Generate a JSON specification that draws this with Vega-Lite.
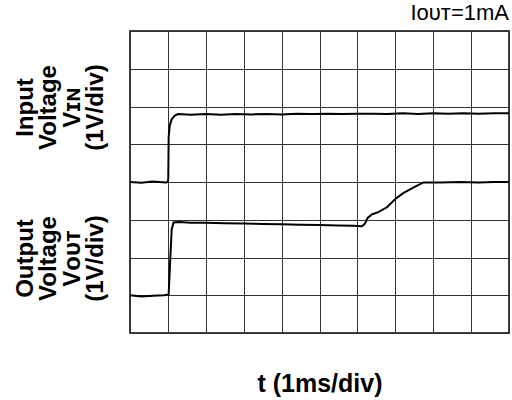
{
  "$schema": "https://vega.github.io/schema/vega-lite/v6.json",
  "width": 379,
  "height": 302,
  "autosize": "none",
  "padding": {"left": 130, "top": 31, "right": 3, "bottom": 67},
  "background": "white",
  "config": {
    "view": {"stroke": "black", "strokeWidth": 1.5},
    "font": "Liberation Sans"
  },
  "title": {
    "text": "Iᴏᴜᴛ=1mA",
    "anchor": "end",
    "frame": "group",
    "fontSize": 22,
    "fontWeight": "normal",
    "color": "black",
    "offset": 6
  },
  "data": {
    "values": [
      {"series": "Input", "t": 0, "v": 4.0},
      {"series": "Input", "t": 0.3, "v": 3.98},
      {"series": "Input", "t": 0.6, "v": 4.01},
      {"series": "Input", "t": 0.95, "v": 3.99},
      {"series": "Input", "t": 1.0, "v": 4.0},
      {"series": "Input", "t": 1.01, "v": 4.1},
      {"series": "Input", "t": 1.02, "v": 5.2},
      {"series": "Input", "t": 1.05, "v": 5.5},
      {"series": "Input", "t": 1.1, "v": 5.66},
      {"series": "Input", "t": 1.18, "v": 5.76},
      {"series": "Input", "t": 1.27, "v": 5.8},
      {"series": "Input", "t": 1.6, "v": 5.78},
      {"series": "Input", "t": 2.0, "v": 5.8},
      {"series": "Input", "t": 2.4, "v": 5.78},
      {"series": "Input", "t": 2.8, "v": 5.8},
      {"series": "Input", "t": 3.2, "v": 5.79},
      {"series": "Input", "t": 3.6, "v": 5.8},
      {"series": "Input", "t": 4.0, "v": 5.79},
      {"series": "Input", "t": 4.4, "v": 5.81},
      {"series": "Input", "t": 4.8, "v": 5.8},
      {"series": "Input", "t": 5.2, "v": 5.81},
      {"series": "Input", "t": 5.6, "v": 5.8},
      {"series": "Input", "t": 6.0, "v": 5.81},
      {"series": "Input", "t": 6.4, "v": 5.81},
      {"series": "Input", "t": 6.8, "v": 5.8},
      {"series": "Input", "t": 7.2, "v": 5.82},
      {"series": "Input", "t": 7.6, "v": 5.8},
      {"series": "Input", "t": 8.0, "v": 5.82},
      {"series": "Input", "t": 8.4, "v": 5.81},
      {"series": "Input", "t": 8.8, "v": 5.82},
      {"series": "Input", "t": 9.2, "v": 5.81},
      {"series": "Input", "t": 9.6, "v": 5.82},
      {"series": "Input", "t": 10.0, "v": 5.82},
      {"series": "Output", "t": 0, "v": 1.0},
      {"series": "Output", "t": 0.3, "v": 0.97},
      {"series": "Output", "t": 0.6, "v": 0.99},
      {"series": "Output", "t": 0.9, "v": 1.0},
      {"series": "Output", "t": 1.02, "v": 1.02},
      {"series": "Output", "t": 1.06, "v": 1.9},
      {"series": "Output", "t": 1.1, "v": 2.75},
      {"series": "Output", "t": 1.15, "v": 2.93},
      {"series": "Output", "t": 1.3, "v": 2.94},
      {"series": "Output", "t": 1.6, "v": 2.92},
      {"series": "Output", "t": 2.0, "v": 2.92},
      {"series": "Output", "t": 2.5, "v": 2.91},
      {"series": "Output", "t": 3.0, "v": 2.9},
      {"series": "Output", "t": 3.5, "v": 2.89},
      {"series": "Output", "t": 4.0, "v": 2.88},
      {"series": "Output", "t": 4.5, "v": 2.87},
      {"series": "Output", "t": 5.0, "v": 2.86},
      {"series": "Output", "t": 5.5, "v": 2.85},
      {"series": "Output", "t": 5.9, "v": 2.84},
      {"series": "Output", "t": 6.12, "v": 2.83},
      {"series": "Output", "t": 6.2, "v": 2.9},
      {"series": "Output", "t": 6.27, "v": 3.05},
      {"series": "Output", "t": 6.38, "v": 3.14},
      {"series": "Output", "t": 6.55, "v": 3.2},
      {"series": "Output", "t": 6.78, "v": 3.33},
      {"series": "Output", "t": 7.0, "v": 3.55},
      {"series": "Output", "t": 7.2, "v": 3.7},
      {"series": "Output", "t": 7.4, "v": 3.81},
      {"series": "Output", "t": 7.6, "v": 3.92},
      {"series": "Output", "t": 7.75, "v": 3.99},
      {"series": "Output", "t": 8.2, "v": 3.99},
      {"series": "Output", "t": 8.7, "v": 4.0},
      {"series": "Output", "t": 9.2, "v": 3.99},
      {"series": "Output", "t": 9.6, "v": 4.0},
      {"series": "Output", "t": 10.0, "v": 4.0}
    ]
  },
  "encoding": {
    "x": {
      "field": "t", "type": "quantitative",
      "scale": {"domain": [0, 10], "nice": false, "zero": false},
      "axis": {
        "values": [0, 1, 2, 3, 4, 5, 6, 7, 8, 9, 10],
        "grid": true, "gridColor": "#333", "gridOpacity": 1, "gridWidth": 1,
        "labels": false, "ticks": false, "domain": false,
        "title": "t (1ms/div)",
        "titleFontSize": 25, "titleFontWeight": "bold", "titleColor": "black",
        "titlePadding": 38
      }
    }
  },
  "layer": [
    {
      "transform": [{"filter": "datum.series == 'Input'"}],
      "mark": {"type": "line", "color": "black", "strokeWidth": 2, "clip": true},
      "encoding": {
        "y": {
          "field": "v", "type": "quantitative",
          "scale": {"domain": [0, 8], "nice": false, "zero": false},
          "axis": {
            "values": [0, 1, 2, 3, 4, 5, 6, 7, 8],
            "grid": true, "gridColor": "#333", "gridOpacity": 1, "gridWidth": 1,
            "labels": false, "ticks": false, "domain": false,
            "title": ["Input", "Voltage", "Vɪɴ", "(1V/div)"],
            "titleFontSize": 24, "titleFontWeight": "bold", "titleColor": "black",
            "titleLineHeight": 23.5,
            "titleAngle": -90, "titleAlign": "center", "titleBaseline": "bottom",
            "titleX": -93, "titleY": 76
          }
        }
      }
    },
    {
      "transform": [{"filter": "datum.series == 'Output'"}],
      "mark": {"type": "line", "color": "black", "strokeWidth": 2, "clip": true},
      "encoding": {
        "y": {
          "field": "v", "type": "quantitative",
          "scale": {"domain": [0, 8], "nice": false, "zero": false},
          "axis": {
            "orient": "left",
            "grid": false, "labels": false, "ticks": false, "domain": false,
            "title": ["Output", "Voltage", "Vᴏᴜᴛ", "(1V/div)"],
            "titleFontSize": 24, "titleFontWeight": "bold", "titleColor": "black",
            "titleLineHeight": 23.5,
            "titleAngle": -90, "titleAlign": "center", "titleBaseline": "bottom",
            "titleX": -93, "titleY": 227
          }
        }
      }
    }
  ],
  "resolve": {"scale": {"y": "independent"}, "axis": {"y": "independent"}}
}
